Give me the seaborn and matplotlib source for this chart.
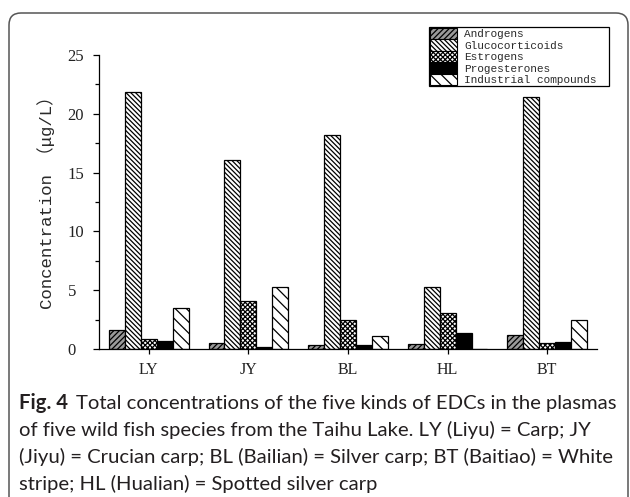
import numpy as np
import pandas as pd
import matplotlib
matplotlib.use("Agg")
import matplotlib.pyplot as plt
import seaborn as sns
from matplotlib.patches import FancyBboxPatch, Patch
from matplotlib.ticker import MultipleLocator
from matplotlib.transforms import IdentityTransform

# Fish species (x categories) and EDC classes (hue levels)
fish = ["LY", "JY", "BL", "HL", "BT"]
compounds = ["Androgens", "Glucocorticoids", "Estrogens",
             "Progesterones", "Industrial compounds"]

# Concentrations in µg/L per fish species
androgens = [1.6, 0.55, 0.3, 0.45, 1.15]
glucocorticoids = [21.85, 16.05, 18.2, 5.3, 21.4]
estrogens = [0.85, 4.1, 2.5, 3.05, 0.55]
progesterones = [0.65, 0.15, 0.3, 1.4, 0.57]
industrial = [3.5, 5.3, 1.1, 0.0, 2.5]

y_ticks = [0, 5, 10, 15, 20, 25]

series = [androgens, glucocorticoids, estrogens, progesterones, industrial]
df = pd.DataFrame({
    "fish": [f for _ in compounds for f in fish],
    "compound": [c for c in compounds for _ in fish],
    "value": [v for s in series for v in s],
})

fills = {"Androgens": "#9a9a9a", "Glucocorticoids": "white",
         "Estrogens": "white", "Progesterones": "black",
         "Industrial compounds": "white"}
hatches = {"Androgens": "//////", "Glucocorticoids": "\\" * 7,
           "Estrogens": "xxxxxxx", "Progesterones": "",
           "Industrial compounds": "\\\\\\"}

sns.set_theme(style="ticks")
plt.rcParams["font.family"] = ["Liberation Serif", "DejaVu Sans"]
plt.rcParams["hatch.linewidth"] = 0.9

W, H = 630, 497
fig = plt.figure(figsize=(W / 100, H / 100), dpi=100)
ax = fig.add_axes([99 / W, 1 - 349 / H, (597 - 99) / W, (349 - 55) / H])

sns.barplot(data=df, x="fish", y="value", hue="compound", order=fish,
            hue_order=compounds, palette=fills, saturation=1, width=0.8,
            edgecolor="black", linewidth=0.9, errorbar=None, legend=False,
            ax=ax)

for cont, comp in zip(ax.containers, compounds):
    for bar in cont:
        bar.set_hatch(hatches[comp])

ax.set_xlim(-0.5, 4.5)
ax.set_ylim(0, 25)
ax.set_yticks(y_ticks)
ax.yaxis.set_minor_locator(MultipleLocator(2.5))
ax.set_xlabel("")
ax.set_ylabel("")
sns.despine(ax=ax)
for side in ("left", "bottom"):
    ax.spines[side].set_color("black")
    ax.spines[side].set_linewidth(0.9)

ax.tick_params(axis="y", which="major", direction="out", length=4.5,
               width=0.9, color="black", pad=18, labelsize=12,
               labelcolor="#222222")
ax.tick_params(axis="y", which="minor", direction="out", length=3,
               width=0.9, color="black")
ax.tick_params(axis="x", direction="out", length=3.5, width=0.9,
               color="black", pad=6, labelsize=11.5, labelcolor="#222222")
for t in ax.get_yticklabels():
    t.set_horizontalalignment("left")

fig.text(46 / W, 1 - 198 / H, "Concentration （μg/L）", rotation=90,
         ha="center", va="center", fontsize=12.5, color="#2a2a2a",
         family=["Liberation Mono", "Noto Sans CJK SC"])

handles = [Patch(facecolor=fills[c], edgecolor="black", hatch=hatches[c],
                 linewidth=0.8, label=c) for c in compounds]
leg = fig.legend(handles=handles, loc="upper left",
                 bbox_to_anchor=(429 / W, 1 - 95 / H, 180 / W, 68 / H),
                 bbox_transform=fig.transFigure, borderaxespad=0,
                 mode="expand",
                 prop={"family": "Liberation Mono", "size": 8},
                 handlelength=2.5, handleheight=1.22, handletextpad=0.6,
                 labelspacing=0.0, borderpad=0.05, fancybox=False,
                 framealpha=1)
leg.get_frame().set_edgecolor("black")
leg.get_frame().set_linewidth(0.9)
for t in leg.get_texts():
    t.set_color("#2a2a2a")

# Rounded panel border running off the bottom edge
frame = FancyBboxPatch((9, -30), 619, H - 13 + 30,
                       boxstyle="round,pad=0,rounding_size=12",
                       transform=IdentityTransform(), fill=False,
                       edgecolor="#555555", linewidth=1.1)
fig.add_artist(frame)

# Caption
cap_lines = [
    "Total concentrations of the five kinds of EDCs in the plasmas",
    "of five wild fish species from the Taihu Lake. LY (Liyu) = Carp; JY",
    "(Jiyu) = Crucian carp; BL (Bailian) = Silver carp; BT (Baitiao) = White",
    "stripe; HL (Hualian) = Spotted silver carp",
]
cap_font = "Lato"
renderer = fig.canvas.get_renderer()
probe = fig.text(0, 0, cap_lines[2], fontsize=13, family=cap_font)
w = probe.get_window_extent(renderer).width
probe.remove()
fs = 13 * (612 - 19) / w

x0 = 19
baselines = [409, 436, 463, 490]
head = fig.text(x0 / W, 1 - baselines[0] / H, "Fig. 4", fontsize=fs,
                family=cap_font, weight="bold", color="#231f20",
                va="baseline")
hw = head.get_window_extent(renderer).width
fig.text((x0 + hw + 8) / W, 1 - baselines[0] / H, cap_lines[0],
         fontsize=fs, family=cap_font, color="#231f20", va="baseline")
for line, b in zip(cap_lines[1:], baselines[1:]):
    fig.text(x0 / W, 1 - b / H, line, fontsize=fs, family=cap_font,
             color="#231f20", va="baseline")

fig.savefig("out.png", dpi=100, facecolor="white")
